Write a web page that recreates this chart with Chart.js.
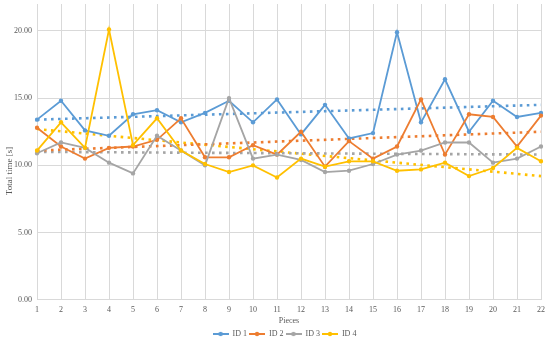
<!DOCTYPE html>
<html>
<head>
<meta charset="utf-8">
<script src="https://cdn.jsdelivr.net/npm/chart.js@4.4.1/dist/chart.umd.min.js"></script>
<style>
  html, body { margin: 0; padding: 0; background: #fff; }
  #wrap { width: 550px; height: 340px; position: relative; }
</style>
</head>
<body>
<div id="wrap"><canvas id="timeChart"></canvas></div>
<script>
// Pieces on the x axis
const pieces = ['1', '2', '3', '4', '5', '6', '7', '8', '9', '10', '11',
  '12', '13', '14', '15', '16', '17', '18', '19', '20', '21', '22'];

// Total time [s] per piece
const id1Times = [13.4, 14.8, 12.6, 12.2, 13.8, 14.1, 13.2, 13.9, 14.8, 13.2, 14.9,
  12.3, 14.5, 12.0, 12.4, 19.9, 13.2, 16.4, 12.5, 14.8, 13.6, 13.9];
const id2Times = [12.8, 11.4, 10.5, 11.3, 11.4, 11.9, 13.5, 10.6, 10.6, 11.5, 10.8,
  12.5, 9.9, 11.8, 10.5, 11.4, 14.9, 10.8, 13.8, 13.6, 11.4, 13.7];
const id3Times = [10.9, 11.7, 11.3, 10.2, 9.4, 12.2, 11.1, 10.0, 15.0, 10.5, 10.8,
  10.4, 9.5, 9.6, 10.1, 10.8, 11.1, 11.7, 11.7, 10.2, 10.5, 11.4];
const id4Times = [11.1, 13.2, 11.3, 20.1, 11.5, 13.5, 11.1, 10.1, 9.5, 10.0, 9.1,
  10.5, 9.9, 10.3, 10.3, 9.6, 9.7, 10.2, 9.2, 9.8, 11.3, 10.3];

// Linear trendline ends (piece 1 and piece 22)
const id1Trend = [13.4, 14.5];
const id2Trend = [11.1, 12.5];
const id3Trend = [11.0, 10.8];
const id4Trend = [12.7, 9.2];

const seriesNames = ['ID 1', 'ID 2', 'ID 3', 'ID 4'];
const seriesColors = ['#5B9BD5', '#ED7D31', '#A5A5A5', '#FFC000'];
const seriesTimes = [id1Times, id2Times, id3Times, id4Times];
const seriesTrends = [id1Trend, id2Trend, id3Trend, id4Trend];

const serif = "'Liberation Serif', 'DejaVu Serif', serif";
const textGrey = '#595959';
const gridGrey = '#D9D9D9';

// Small line-with-marker icon for the legend, like the Excel one
function legendIcon(color) {
  const c = document.createElement('canvas');
  c.width = 16;
  c.height = 6;
  const ctx = c.getContext('2d');
  ctx.strokeStyle = color;
  ctx.lineWidth = 2;
  ctx.beginPath();
  ctx.moveTo(0, 3);
  ctx.lineTo(16, 3);
  ctx.stroke();
  ctx.fillStyle = color;
  ctx.beginPath();
  ctx.arc(8, 3, 2.2, 0, Math.PI * 2);
  ctx.fill();
  return c;
}

// Excel puts the y title a bit below the plot middle, so draw it by hand
const yTitlePlugin = {
  id: 'yTitle',
  afterLayout(chart) {
    // centre the legend under the plot area, not the whole canvas
    if (chart.legend) {
      chart.legend.left += 14;
      chart.legend.right += 14;
    }
  },
  afterDraw(chart) {
    const ctx = chart.ctx;
    ctx.save();
    ctx.translate(10, 171);
    ctx.rotate(-Math.PI / 2);
    ctx.font = '9px ' + serif;
    ctx.fillStyle = textGrey;
    ctx.textAlign = 'center';
    ctx.textBaseline = 'middle';
    ctx.fillText('Total time [s]', 0, 0);
    ctx.restore();
  }
};

const datasets = [];
seriesNames.forEach((name, i) => {
  datasets.push({
    label: name,
    data: seriesTimes[i],
    borderColor: seriesColors[i],
    backgroundColor: seriesColors[i],
    borderWidth: 1.8,
    pointRadius: 2.2,
    pointBorderWidth: 0,
    pointHoverRadius: 2.2,
    tension: 0,
    order: 4 - i // ID 4 drawn on top
  });
});
seriesNames.forEach((name, i) => {
  datasets.push({
    label: 'Linear (' + name + ')',
    data: [
      { x: pieces[0], y: seriesTrends[i][0] },
      { x: pieces[pieces.length - 1], y: seriesTrends[i][1] }
    ],
    borderColor: seriesColors[i],
    borderWidth: 2.6,
    borderDash: [2.6, 4.4],
    pointRadius: 0,
    order: 10
  });
});

new Chart(document.getElementById('timeChart'), {
  type: 'line',
  data: { labels: pieces, datasets: datasets },
  options: {
    responsive: true,
    maintainAspectRatio: false,
    animation: false,
    layout: { padding: { left: 0, right: 9, top: 4, bottom: -8 } },
    plugins: {
      tooltip: { enabled: false },
      legend: {
        position: 'bottom',
        labels: {
          font: { family: serif, size: 8 },
          color: textGrey,
          usePointStyle: true,
          pointStyleWidth: 16,
          padding: 2,
          generateLabels: function(chart) {
            return seriesNames.map((name, i) => ({
              text: name,
              pointStyle: legendIcon(seriesColors[i]),
              fillStyle: seriesColors[i],
              strokeStyle: seriesColors[i],
              lineWidth: 0,
              fontColor: textGrey,
              hidden: false,
              datasetIndex: i
            }));
          }
        }
      }
    },
    scales: {
      x: {
        offset: false,
        grid: { color: gridGrey, drawTicks: false },
        border: { color: gridGrey },
        ticks: {
          color: textGrey,
          font: { family: serif, size: 8 },
          padding: 5,
          maxRotation: 0,
          autoSkip: false
        },
        title: {
          display: true,
          text: 'Pieces',
          color: textGrey,
          font: { family: serif, size: 8 },
          padding: { top: -3, bottom: 2 }
        }
      },
      y: {
        min: 0,
        max: 22,
        grid: { color: gridGrey, drawTicks: false },
        border: { display: false },
        afterBuildTicks: function(scale) {
          scale.ticks = scale.ticks.filter(t => t.value % 5 === 0);
        },
        afterFit: function(scale) {
          scale.width = 37;
          scale.paddingTop = 0; // top label (20.00) sits well below the edge
        },
        ticks: {
          stepSize: 5,
          color: textGrey,
          font: { family: serif, size: 8 },
          padding: 5,
          callback: v => v.toFixed(2)
        }
      }
    }
  },
  plugins: [yTitlePlugin]
});
</script>
</body>
</html>
